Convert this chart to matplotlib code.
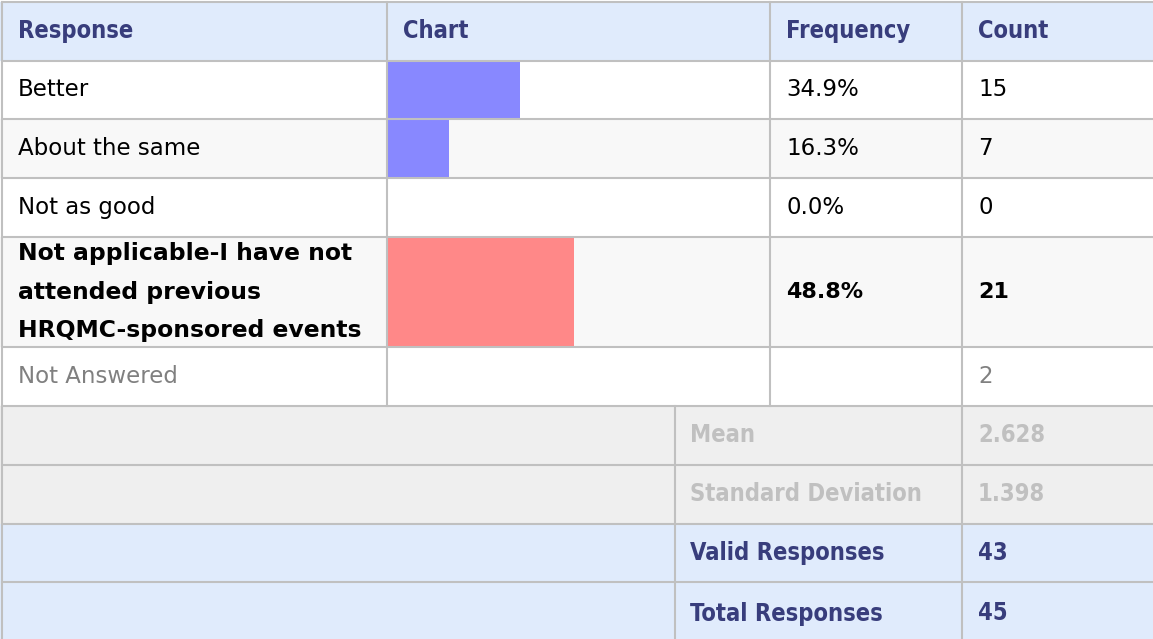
import numpy as np
import matplotlib.pyplot as plt
from matplotlib.patches import Rectangle

# data
responses = ["Better", "About the same", "Not as good",
             "Not applicable-I have not\nattended previous\nHRQMC-sponsored events"]
frequency = [34.9, 16.3, 0.0, 48.8]
counts = [15, 7, 0, 21]
not_answered = 2
stat_labels = ["Mean", "Standard Deviation", "Valid Responses", "Total Responses"]
stat_values = ["2.628", "1.398", "43", "45"]
headers = ["Response", "Chart", "Frequency", "Count"]

# layout (pixels)
W, H = 1153, 639
col_x = [2, 386.5, 770, 962, 1160]
foot_x = 674.5
row_y = [2, 60.5, 119, 178, 237, 347, 406, 465, 523.5, 582, 645]
pad = 16

border = "#c0c0c0"
head_bg = "#e0ebfc"
stripe = "#f8f8f8"
foot_bg = "#efefef"
navy = "#383d7c"
bar_colors = ["#8888ff", "#8888ff", "#8888ff", "#ff8888"]

fig = plt.figure(figsize=(W / 100, H / 100), dpi=100)
ax = fig.add_axes([0, 0, 1, 1])
ax.set_xlim(0, W)
ax.set_ylim(H, 0)
ax.axis("off")

def cell_bg(x0, x1, y0, y1, color):
    ax.add_patch(Rectangle((x0, y0), x1 - x0, y1 - y0, facecolor=color,
                           edgecolor="none", zorder=0))

# row backgrounds
bgs = [head_bg, "white", stripe, "white", stripe, "white",
       foot_bg, foot_bg, head_bg, head_bg]
for i, c in enumerate(bgs):
    cell_bg(0, W, row_y[i], row_y[i + 1], c)

# bars
chart_w = col_x[2] - col_x[1]
centers = [(row_y[i + 1] + row_y[i + 2]) / 2 for i in range(len(responses))]
heights = [row_y[i + 2] - row_y[i + 1] for i in range(len(responses))]
ax.barh(centers, np.array(frequency) / 100 * chart_w, height=heights,
        left=col_x[1], color=bar_colors, zorder=1)

# grid lines
for y in row_y[:-1]:
    ax.plot([col_x[0], W + 10], [y, y], color=border, lw=1.5, zorder=2)
for x in col_x[:4]:
    ax.plot([x, x], [row_y[0], row_y[6]], color=border, lw=1.5, zorder=2)
for x in [col_x[0], foot_x, col_x[3]]:
    ax.plot([x, x], [row_y[6], H + 10], color=border, lw=1.5, zorder=2)

def txt(x, y, s, color="black", bold=False, fs=16.5, stretch="normal"):
    ax.text(x, y, s, color=color, fontsize=fs, va="center", ha="left",
            fontweight="bold" if bold else "normal", linespacing=1.85,
            fontstretch=stretch, family="DejaVu Sans", zorder=3)

# header
hy = (row_y[0] + row_y[1]) / 2
for x, h in zip(col_x[:4], headers):
    txt(x + pad, hy, h, navy, True, 17, "condensed")

# response rows
top = frequency.index(max(frequency))
for i, r in enumerate(responses):
    y = centers[i]
    if i == top:
        txt(col_x[0] + pad, y, r, bold=True, fs=16.9)
        txt(col_x[2] + pad, y, f"{frequency[i]:.1f}%", bold=True, fs=16)
        txt(col_x[3] + pad, y, str(counts[i]), bold=True, fs=16)
    else:
        txt(col_x[0] + pad, y, r)
        txt(col_x[2] + pad, y, f"{frequency[i]:.1f}%")
        txt(col_x[3] + pad, y, str(counts[i]))

y = (row_y[5] + row_y[6]) / 2
txt(col_x[0] + pad, y, "Not Answered", "#808080")
txt(col_x[3] + pad, y, str(not_answered), "#808080")

# stats rows
for i, (lab, val) in enumerate(zip(stat_labels, stat_values)):
    y = (row_y[6 + i] + row_y[7 + i]) / 2
    c = "#c0c0c0" if i < 2 else navy
    txt(foot_x + pad, y, lab, c, True, 17, "condensed")
    txt(col_x[3] + pad, y, val, c, True, 17, "condensed")

fig.savefig("out.png", dpi=100)
